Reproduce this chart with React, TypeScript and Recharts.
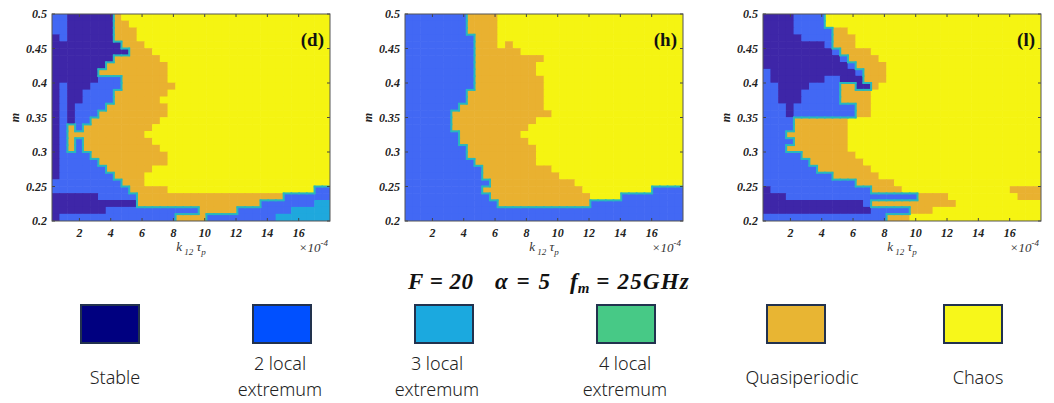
import React from 'react';
import { ScatterChart, Scatter, XAxis, YAxis } from 'recharts';

// grid of the regime maps: k12*tau_p (x1e-4) by m
const K_MIN = 0.25;
const K_MAX = 18;
const M_MIN = 0.2;
const M_MAX = 0.5;
const N_COLS = 36;
const N_ROWS = 30;

const X_TICKS = [2, 4, 6, 8, 10, 12, 14, 16];
const Y_TICKS = [0.2, 0.25, 0.3, 0.35, 0.4, 0.45, 0.5];

// S stable, B 2 local, C 3 local, G 4 local, Q quasiperiodic, Y chaos
const MAP_COLORS: Record<string, string> = {
  S: '#3E26A8',
  B: '#4268F4',
  C: '#1FA8DD',
  G: '#45C48A',
  Q: '#E9B130',
  Y: '#F5F412',
};
const LEVELS: Record<string, number> = { S: 1, B: 2, C: 3, G: 4, Q: 5, Y: 6 };

// rows from m = 0.5 (top) to m = 0.2 (bottom), run-length encoded
const MAP_D = [
  '2B 6S 1Q 27Y', '2B 6S 2Q 26Y', '2B 6S 3Q 25Y', '1S 1B 6S 3Q 25Y', '9S 3Q 24Y',
  '10S 3Q 23Y', '8S 6Q 22Y', '7S 8Q 21Y', '6S 9Q 21Y', '6S 3B 6Q 21Y',
  '1S 1B 3S 4B 7Q 20Y', '1S 1B 2S 4B 7Q 21Y', '1S 1B 2S 4B 6Q 22Y', '1S 1B 1S 4B 8Q 21Y', '1S 1B 1S 3B 9Q 21Y',
  '1S 1B 1S 2B 9Q 22Y', '1S 1B 1Q 1B 9Q 23Y', '1S 1B 10Q 24Y', '1S 1B 1Q 1B 9Q 23Y', '1S 1B 1Q 1B 10Q 22Y',
  '1S 4B 10Q 21Y', '1S 5B 9Q 21Y', '1S 6B 6Q 23Y', '1S 7B 4Q 24Y', '9B 3Q 24Y',
  '10B 5Q 19Y 2B', '6S 5B 19Q 6B', '11S 16Q 7B 2C', '7S 12B 5Q 7B 5C', '1S 15B 4Q 9B 7C',
];

const MAP_H = [
  '8B 4Q 24Y', '8B 4Q 24Y', '8B 4Q 24Y', '9B 3Q 24Y', '9B 3Q 1Y 1Q 22Y',
  '9B 6Q 21Y', '9B 9Q 18Y', '9B 8Q 19Y', '9B 8Q 19Y', '9B 9Q 18Y',
  '9B 9Q 18Y', '8B 10Q 18Y', '8B 10Q 18Y', '7B 11Q 18Y', '6B 13Q 17Y',
  '6B 11Q 19Y', '6B 10Q 20Y', '7B 8Q 21Y', '7B 9Q 20Y', '8B 9Q 19Y',
  '8B 9Q 19Y', '9B 8Q 19Y', '10B 9Q 17Y', '10B 10Q 16Y', '11B 11Q 14Y',
  '10B 13Q 9Y 4B', '11B 13Q 4Y 8B', '12B 12Q 12B', '36B', '36B',
];

const MAP_L = [
  '4S 4B 28Y', '4S 4B 28Y', '4S 5B 2Q 25Y', '5S 4B 3Q 24Y', '8S 1B 3Q 24Y',
  '9S 1B 4Q 22Y', '10S 1B 4Q 21Y', '11S 1B 4Q 20Y', '1B 11S 1B 3Q 20Y', '1B 7S 2B 3S 3Q 20Y',
  '2B 4S 4B 2Q 2S 1Q 21Y', '2B 3S 5B 4Q 22Y', '2B 3S 5B 4Q 22Y', '3B 1S 8B 2Q 22Y', '3B 1S 8B 2Q 22Y',
  '4B 7Q 25Y', '4B 7Q 25Y', '3B 8Q 25Y', '4B 7Q 25Y', '3B 8Q 25Y',
  '5B 7Q 24Y', '6B 7Q 23Y', '7B 7Q 22Y', '9B 6Q 21Y', '12B 5Q 19Y',
  '1S 13B 4Q 14Y 4Q', '3S 17B 4Q 9Y 3Q', '13S 1B 11Q 11Y', '14S 5B 3Q 14Y', '16B 3Q 17Y',
];

const PANEL_MAPS = [MAP_D, MAP_H, MAP_L];
const PANEL_LETTERS = ['(d)', '(h)', '(l)'];

const LEGEND_LABELS = [['Stable'], ['2 local', 'extremum'], ['3 local', 'extremum'], ['4 local', 'extremum'], ['Quasiperiodic'], ['Chaos']];
const LEGEND_COLORS = ['#000080', '#0050FF', '#1BA9DF', '#47C986', '#E8B533', '#F7F71A'];

// layout
const CHART_W = 350;
const CHART_H = 275;
const TOP = 14;
const Y_AXIS_W = 52;
const PLOT_W = 278;
const PLOT_H = 207;
const PLOT_BOTTOM = TOP + PLOT_H;
const CHART_LEFTS = [0, 353, 711];
const CELL_W = PLOT_W / N_COLS;
const CELL_H = PLOT_H / N_ROWS;
const EDGE_COLOR = '#27B8BE';

const LEGEND_X = [81, 253, 415, 597, 767, 944];
const LEGEND_TEXT_X = [115, 280, 437, 625, 802, 978];

const serif = '"Liberation Serif", "Times New Roman", serif';

type Pt = { k: number; m: number; s: string; er: boolean; eb: boolean };

const expand = (rows: string[]): Pt[] => {
  const dk = (K_MAX - K_MIN) / N_COLS;
  const dm = (M_MAX - M_MIN) / N_ROWS;
  const grid: string[][] = rows.map((row) => {
    const out: string[] = [];
    row.trim().split(/\s+/).forEach((tok) => {
      const n = parseInt(tok, 10);
      const s = tok.replace(/\d+/, '');
      for (let i = 0; i < n; i++) out.push(s);
    });
    return out.slice(0, N_COLS);
  });
  const far = (a?: string, b?: string) => !!a && !!b && Math.abs(LEVELS[a] - LEVELS[b]) >= 2;
  const pts: Pt[] = [];
  grid.forEach((cells, r) =>
    cells.forEach((s, c) => {
      pts.push({
        k: K_MIN + (c + 0.5) * dk,
        m: M_MAX - (r + 0.5) * dm,
        s,
        er: far(s, cells[c + 1]),
        eb: far(s, grid[r + 1]?.[c]),
      });
    })
  );
  return pts;
};

const GridCell = (props: any) => {
  const { cx, cy, payload } = props;
  return (
    <rect
      x={cx - CELL_W / 2 - 0.3}
      y={cy - CELL_H / 2 - 0.3}
      width={CELL_W + 0.6}
      height={CELL_H + 0.6}
      fill={MAP_COLORS[payload.s]}
    />
  );
};

// thin transition band between non-adjacent levels, like the contour fill
const EdgeMark = (props: any) => {
  const { cx, cy, payload } = props;
  const x2 = cx + CELL_W / 2;
  const y2 = cy + CELL_H / 2;
  return (
    <g>
      {payload.er && <line x1={x2} x2={x2} y1={cy - CELL_H / 2 - 0.8} y2={y2 + 0.8} stroke={EDGE_COLOR} strokeWidth={2} />}
      {payload.eb && <line x1={cx - CELL_W / 2 - 0.8} x2={x2 + 0.8} y1={y2} y2={y2} stroke={EDGE_COLOR} strokeWidth={2} />}
    </g>
  );
};

const XTick = (props: any) => {
  const { x, payload } = props;
  return (
    <g>
      <line x1={x} x2={x} y1={PLOT_BOTTOM} y2={PLOT_BOTTOM - 3} stroke="#444" />
      <line x1={x} x2={x} y1={TOP} y2={TOP + 3} stroke="#444" />
      <text x={x} y={PLOT_BOTTOM + 16} textAnchor="middle" fontFamily={serif} fontStyle="italic" fontWeight="bold" fontSize={12} fill="#222">
        {payload.value}
      </text>
    </g>
  );
};

const YTick = (props: any) => {
  const { y, payload } = props;
  return (
    <g>
      <line x1={Y_AXIS_W} x2={Y_AXIS_W + 3} y1={y} y2={y} stroke="#444" />
      <line x1={Y_AXIS_W + PLOT_W} x2={Y_AXIS_W + PLOT_W - 3} y1={y} y2={y} stroke="#444" />
      <text x={Y_AXIS_W - 5} y={y + 4} textAnchor="end" fontFamily={serif} fontStyle="italic" fontWeight="bold" fontSize={12} fill="#222">
        {String(payload.value)}
      </text>
    </g>
  );
};

const Panel = ({ rows, left }: { rows: string[]; left: number }) => {
  const pts = expand(rows);
  return (
    <div style={{ position: 'absolute', left, top: 0 }}>
      <ScatterChart width={CHART_W} height={CHART_H} margin={{ top: TOP, right: CHART_W - Y_AXIS_W - PLOT_W, bottom: 0, left: 0 }}>
        <XAxis type="number" dataKey="k" domain={[K_MIN, K_MAX]} ticks={X_TICKS} interval={0} allowDataOverflow
          axisLine={false} tickLine={false} height={CHART_H - PLOT_BOTTOM} tick={(p: any) => <XTick {...p} />} />
        <YAxis type="number" dataKey="m" domain={[M_MIN, M_MAX]} ticks={Y_TICKS} interval={0} allowDataOverflow
          axisLine={false} tickLine={false} width={Y_AXIS_W} tick={(p: any) => <YTick {...p} />} />
        <Scatter data={pts} shape={(p: any) => <GridCell {...p} />} isAnimationActive={false} />
        <Scatter data={pts} shape={(p: any) => <EdgeMark {...p} />} isAnimationActive={false} />
      </ScatterChart>
    </div>
  );
};

const App = () => (
  <div style={{ position: 'relative', width: 1054, height: 403, background: '#fff', overflow: 'hidden' }}>
    <style>{'body{margin:0}'}</style>
    {PANEL_MAPS.map((rows, i) => (
      <Panel key={i} rows={rows} left={CHART_LEFTS[i]} />
    ))}
    <svg width={1054} height={403} style={{ position: 'absolute', left: 0, top: 0, pointerEvents: 'none' }}>
      {CHART_LEFTS.map((cl, i) => {
        const L = cl + Y_AXIS_W;
        return (
          <g key={i}>
            <rect x={L} y={TOP} width={PLOT_W} height={PLOT_H} fill="none" stroke="#555" strokeWidth={1} />
            <text x={L - 37} y={TOP + PLOT_H / 2} transform={`rotate(-90 ${L - 37} ${TOP + PLOT_H / 2})`} textAnchor="middle"
              dominantBaseline="central" fontFamily={serif} fontStyle="italic" fontWeight="bold" fontSize={12} fill="#222">m</text>
            <text x={L + PLOT_W / 2} y={251} textAnchor="middle" fontFamily={serif} fontStyle="italic" fontSize={13} fill="#333">
              k<tspan fontSize={9} dy={4}> 12</tspan><tspan dy={-4}> τ</tspan><tspan fontSize={9} dy={4}>p</tspan>
            </text>
            <text x={L + PLOT_W - 2} y={252} textAnchor="end" fontFamily={serif} fontStyle="italic" fontSize={13} fill="#333">
              ×10<tspan fontSize={9} dy={-6}>-4</tspan>
            </text>
            <text x={L + PLOT_W - 6} y={46} textAnchor="end" fontFamily={serif} fontWeight="bold" fontSize={19} fill="#111">
              {PANEL_LETTERS[i]}
            </text>
          </g>
        );
      })}
      <g fontFamily={serif} fontStyle="italic" fontWeight="bold" fontSize={23} fill="#111">
        <text x={408} y={289} textLength={65} lengthAdjust="spacing">F = 20</text>
        <text x={495} y={289} textLength={55} lengthAdjust="spacing">α = 5</text>
        <text x={570} y={289}>f<tspan fontSize={15} dy={4}>m</tspan><tspan dy={-4} letterSpacing={1.2}> = 25GHz</tspan></text>
      </g>
      {LEGEND_LABELS.map((lines, i) => (
        <g key={i}>
          <rect x={LEGEND_X[i]} y={305} width={58} height={38} fill={LEGEND_COLORS[i]} stroke="#22324E" strokeWidth={2} />
          {lines.map((t, j) => (
            <text key={j} x={LEGEND_TEXT_X[i]} textAnchor="middle" fontFamily='"Noto Sans", sans-serif' fontWeight={300} fontSize={18} fill="#222"
              y={lines.length === 1 ? 384 : 370 + j * 26}>{t}</text>
          ))}
        </g>
      ))}
    </svg>
  </div>
);

export default App;
